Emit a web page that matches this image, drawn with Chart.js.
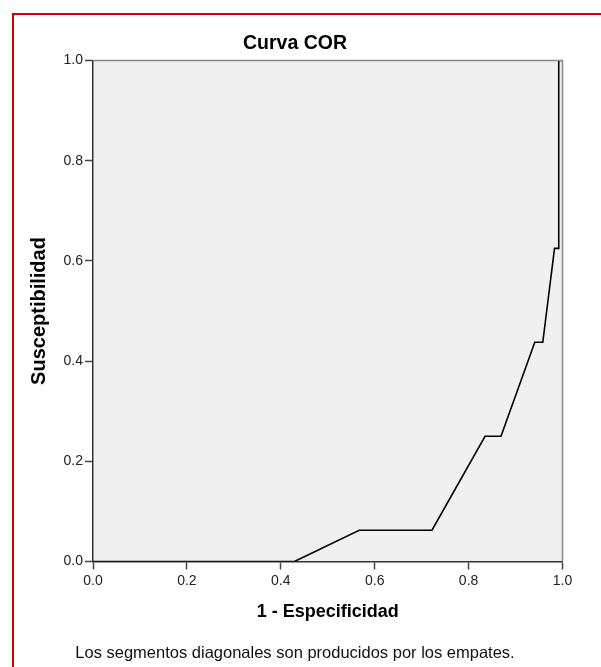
<!DOCTYPE html>
<html>
<head>
<meta charset="utf-8">
<script src="https://cdn.jsdelivr.net/npm/chart.js@4"></script>
<style>
  html, body { margin: 0; padding: 0; background: #fff; }
  #wrap { position: relative; width: 601px; height: 667px; overflow: hidden; }
  #frame { position: absolute; left: 12px; top: 13px; width: 700px; height: 800px;
           border-left: 2px solid #cc0000; border-top: 2px solid #cc0000; pointer-events: none; }
  canvas { position: absolute; left: 0; top: 0; }
</style>
</head>
<body>
<div id="wrap">
  <canvas id="roc" width="601" height="667"></canvas>
  <div id="frame"></div>
</div>
<script>
// ROC curve points
const fpr = [0, 0.429, 0.567, 0.722, 0.835, 0.869, 0.941, 0.958, 0.983, 0.992, 0.992, 1];
const tpr = [0, 0, 0.0625, 0.0625, 0.25, 0.25, 0.4375, 0.4375, 0.625, 0.625, 1, 1];
const tickValues = [0, 0.2, 0.4, 0.6, 0.8, 1.0];

const FONT = '"Liberation Sans", Arial, sans-serif';

const points = fpr.map((x, i) => ({ x: x, y: tpr[i] }));

// grey plot background plus the light top/right frame
const plotFrame = {
  id: 'plotFrame',
  beforeDraw(chart) {
    const { ctx, chartArea: a } = chart;
    ctx.save();
    ctx.fillStyle = '#f0f0f0';
    ctx.fillRect(a.left, a.top, a.right - a.left, a.bottom - a.top);
    ctx.restore();
  },
  afterDraw(chart) {
    const { ctx, chartArea: a } = chart;
    ctx.save();
    ctx.strokeStyle = '#8a8a8a';
    ctx.lineWidth = 1.5;
    ctx.beginPath();
    ctx.moveTo(a.left, a.top);
    ctx.lineTo(a.right, a.top);
    ctx.lineTo(a.right, a.bottom);
    ctx.stroke();
    ctx.restore();
  }
};

function axis(title, isY) {
  return {
    type: 'linear',
    min: 0,
    max: 1,
    afterBuildTicks: s => { s.ticks = tickValues.map(v => ({ value: v })); },
    afterFit: s => {
      if (isY) s.width = 65.5;
      else s.height = 68.5;
    },
    ticks: {
      callback: v => v.toFixed(1),
      color: '#222',
      font: { family: FONT, size: 14 },
      padding: isY ? 2 : 3
    },
    grid: {
      display: true,
      drawOnChartArea: false,
      drawTicks: true,
      tickLength: 8,
      tickColor: '#444',
      tickWidth: 1.5
    },
    border: { display: true, color: '#333', width: 1.5 },
    title: {
      display: true,
      text: title,
      color: '#000',
      font: { family: FONT, size: isY ? 20 : 18, weight: 'bold' },
      padding: isY ? { top: 0, bottom: 0 } : { top: 0, bottom: 7.2 }
    }
  };
}

new Chart(document.getElementById('roc'), {
  type: 'scatter',
  data: {
    datasets: [{
      data: points,
      showLine: true,
      borderColor: '#000',
      borderWidth: 1.6,
      pointRadius: 0,
      tension: 0
    }]
  },
  options: {
    responsive: false,
    animation: false,
    layout: { padding: { left: 27.5, right: 38.5, top: 0, bottom: 0 } },
    scales: {
      x: axis('1 - Especificidad', false),
      y: axis('Susceptibilidad', true)
    },
    plugins: {
      legend: { display: false },
      tooltip: { enabled: false },
      title: {
        display: true,
        text: 'Curva COR',
        color: '#000',
        font: { family: FONT, size: 19.5, weight: 'bold' },
        padding: { top: 31.8, bottom: 5.3 }
      },
      subtitle: {
        display: true,
        position: 'bottom',
        text: 'Los segmentos diagonales son producidos por los empates.',
        color: '#111',
        font: { family: FONT, size: 16.5, weight: 'normal' },
        padding: { top: 13.1, bottom: 4.1 }
      }
    }
  },
  plugins: [plotFrame]
});
</script>
</body>
</html>
